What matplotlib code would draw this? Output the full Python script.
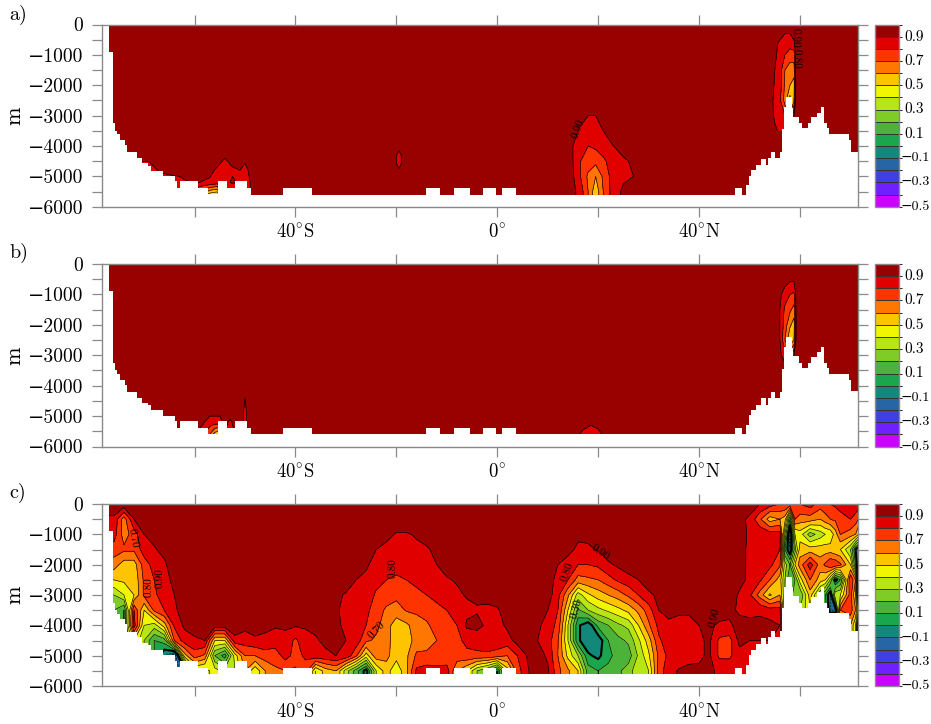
import numpy as np
import matplotlib
matplotlib.use("Agg")
import matplotlib.pyplot as plt
from matplotlib.colors import ListedColormap, BoundaryNorm

plt.rcParams['font.family'] = ['cmr10', 'DejaVu Serif']
plt.rcParams['axes.unicode_minus'] = True
plt.rcParams['axes.formatter.use_mathtext'] = False
plt.rcParams['mathtext.fontset'] = 'cm'

W, H = 931, 724
levels = [-0.5, -0.4, -0.3, -0.2, -0.1, 0.0, 0.1, 0.2, 0.3, 0.4, 0.5, 0.6, 0.7, 0.8, 0.9, 1.0]
colors = ['#cc00ff', '#7020ff', '#4040e0', '#2666a6', '#11887a', '#19a64d', '#4cb33a', '#80cc26',
          '#b8e614', '#f0f500', '#ffc400', '#ff7700', '#ff3300', '#e00000', '#990000']
cbar_labels = ['\u22120.5', '\u22120.3', '\u22120.1', '0.1', '0.3', '0.5', '0.7', '0.9']
cbar_ticks = [-0.5, -0.3, -0.1, 0.1, 0.3, 0.5, 0.7, 0.9]
lat_ticks = [-60, -40, -20, 0, 20, 40, 60]
lat_names = ['', r'40$^{\circ}$S', '', r'0$^{\circ}$', '', r'40$^{\circ}$N', '']
depth_ticks = [0, -500, -1000, -1500, -2000, -2500, -3000, -3500, -4000, -4500, -5000, -5500, -6000]
depth_names = ['0', '', '\u22121000', '', '\u22122000', '', '\u22123000', '', '\u22124000', '', '\u22125000', '', '\u22126000']

# sea floor: latitude of each step and depth from there on
floor_lat = [-78.35, -76.9, -76.2, -76.1, -75.8, -75.3, -74.8, -73.8, -73.3, -71.4, -70.5, -69.3, -68.7, -66.2,
             -63.9, -63.5, -62.9, -59.3, -57.3, -55.3, -53.6, -52.0, -49.7, -48.9, -42.4, -36.7, -14.1, -11.4,
             -8.6, -5.4, -2.8, -0.3, 0.9, 3.7, 47.1, 48.5, 49.3, 49.8, 50.3, 51.3, 52.3, 53.2, 53.7, 54.2, 55.0,
             56.0, 56.4, 56.8, 57.2, 58.4, 58.6, 59.7, 60.3, 61.6, 62.1, 63.4, 64.2, 64.8, 65.3, 65.8, 69.7, 70.2, 71.55]
floor_depth = [0, 900, 1500, 3250, 3500, 3620, 3800, 3970, 4210, 4400, 4570, 4650, 4810, 4990,
               5170, 5390, 5170, 5400, 5590, 5170, 5400, 5170, 5400, 5600, 5400, 5600, 5400, 5600,
               5400, 5600, 5400, 5600, 5400, 5600, 5400, 5600, 5300, 4980, 4800, 4620, 4420, 4620, 4400, 4200, 4400,
               4200, 3440, 2720, 2400, 2750, 3030, 3250, 3420, 3250, 3060, 2900, 2730, 3250, 3420, 3600, 3800, 4190, 4190]

# panels a and b: background value
base_lat = [-78.35, 71.55]
base_depth = [0, -6000]
base_val = [[0.95, 0.95], [0.95, 0.95]]

# panel a patches
a_dome_lat = [13, 15, 16.5, 18, 19.5, 21, 23, 25, 27, 29]
a_dome_depth = [-2500, -3000, -3500, -4000, -4500, -5000, -5500, -6000]
a_dome = [[.95, .95, .95, .95, .95, .95, .95, .95, .95, .95],
          [.95, .95, .92, .90, .90, .92, .95, .95, .95, .95],
          [.95, .92, .89, .87, .87, .90, .92, .95, .95, .95],
          [.95, .90, .86, .80, .82, .85, .90, .95, .95, .95],
          [.95, .90, .80, .75, .73, .78, .85, .88, .92, .95],
          [.95, .91, .80, .68, .60, .72, .85, .88, .90, .95],
          [.95, .93, .85, .70, .53, .70, .85, .92, .95, .95],
          [.95, .93, .85, .70, .53, .70, .85, .92, .95, .95]]
a_north_lat = [54, 55, 56, 57, 58, 58.8, 59.2]
a_north_depth = [0, -300, -600, -1000, -1500, -2000, -2500, -3000, -3500]
a_north = [[.95, .95, .95, .95, .95, .95, .95],
           [.95, .95, .95, .90, .90, .95, .95],
           [.95, .93, .88, .85, .85, .88, .95],
           [.95, .91, .88, .80, .75, .75, .95],
           [.95, .90, .85, .70, .65, .65, .95],
           [.95, .89, .85, .68, .60, .55, .95],
           [.95, .87, .82, .66, .45, .60, .95],
           [.95, .88, .85, .80, .60, .90, .95],
           [.95, .92, .88, .80, .60, .90, .95]]
a_south_lat = [-71, -69, -67, -65, -63, -61, -59, -57, -55.5, -54, -52.5, -51, -50, -49, -48]
a_south_depth = [-4000, -4400, -4800, -5200, -5600, -6000]
a_south = [[.95, .95, .95, .95, .95, .95, .95, .95, .95, .95, .95, .95, .95, .95, .95],
           [.92, .92, .95, .95, .95, .95, .95, .95, .95, .90, .95, .95, .92, .95, .95],
           [.85, .85, .91, .93, .95, .95, .95, .93, .88, .85, .88, .90, .87, .92, .95],
           [.85, .85, .85, .85, .85, .90, .90, .88, .85, .85, .92, .88, .85, .90, .95],
           [.80, .80, .80, .75, .80, .80, .60, .45, .40, .80, .70, .80, .85, .90, .95],
           [.80, .80, .80, .75, .80, .80, .60, .45, .40, .80, .70, .80, .85, .90, .95]]
a_oval_lat = [-20.4, -19.5, -18.6]
a_oval_depth = [-4000, -4300, -4600, -4900]
a_oval = [[.95, .95, .95], [.95, .85, .95], [.95, .85, .95], [.95, .95, .95]]

# panel b patches
b_north_lat = [55, 56, 57, 58, 58.8, 59.3]
b_north_depth = [0, -500, -1000, -1500, -2000, -2500, -3000, -3500]
b_north = [[.95, .95, .95, .95, .95, .95],
           [.95, .95, .95, .92, .92, .95],
           [.95, .92, .85, .80, .78, .95],
           [.95, .90, .78, .72, .66, .95],
           [.95, .90, .75, .62, .55, .95],
           [.95, .90, .70, .50, .60, .95],
           [.95, .92, .85, .80, .90, .95],
           [.95, .95, .95, .95, .95, .95]]
b_south_lat = [-60, -58.5, -57, -56, -55, -54, -53, -52, -51.2, -50.5, -50, -49.5, -49]
b_south_depth = [-4000, -4400, -4800, -5200, -5600, -6000]
b_south = [[.95, .95, .95, .95, .95, .95, .95, .95, .95, .95, .95, .95, .95],
           [.95, .95, .95, .95, .95, .95, .95, .95, .95, .95, .90, .95, .95],
           [.95, .95, .95, .95, .95, .95, .95, .95, .95, .95, .85, .95, .95],
           [.95, .92, .85, .85, .85, .93, .88, .93, .95, .92, .86, .92, .95],
           [.90, .85, .70, .55, .50, .90, .85, .90, .95, .95, .95, .95, .95],
           [.90, .85, .70, .55, .50, .90, .85, .90, .95, .95, .95, .95, .95]]
b_dome_lat = [15, 17, 18.5, 20, 22]
b_dome_depth = [-5000, -5300, -5600, -6000]
b_dome = [[.95, .95, .95, .95, .95],
          [.95, .93, .90, .92, .95],
          [.95, .87, .85, .87, .95],
          [.95, .87, .85, .87, .95]]

# panel c: one row per latitude, one value per depth
c_depth = [0, -500, -1000, -1500, -2000, -2500, -3000, -3500, -4000, -4500, -5000, -5500, -6000]
c_lat = [-78.35, -76, -74, -72, -70, -68, -66, -64, -62, -60, -58, -56, -54, -52, -50, -48, -46, -44,
         -42, -40, -38, -36, -34, -32, -30, -28, -26, -24, -22, -20, -18, -16, -14, -12, -10, -8, -6, -4, -2, 0,
         2, 4, 6, 8, 10, 12, 14, 16, 18, 20, 22, 24, 26, 28, 30, 32, 34, 36, 38, 40, 42, 44, 46, 48,
         50, 52, 54, 56, 57, 58, 59, 60, 62, 64, 65, 66, 67, 68, 70, 71, 71.55]
c_field = [
    [.97, .88, .85, .75, .65, .50, .30, .20, .20, .20, .20, .20, .20],
    [.97, .88, .85, .75, .65, .50, .30, .20, .20, .20, .20, .20, .20],
    [.97, .65, .65, .72, .55, .52, .40, .10, .10, .10, .10, .10, .10],
    [.97, .90, .75, .72, .55, .52, .50, .80, .85, .50, .50, .50, .50],
    [.97, .95, .90, .85, .75, .72, .72, .50, .40, .30, .30, .30, .30],
    [.97, .97, .93, .89, .84, .80, .78, .72, .35, .10, .10, .10, .10],
    [.97, .97, .96, .93, .88, .86, .85, .80, .55, .15, -.1, -.1, -.1],
    [.97, .97, .97, .97, .97, .93, .90, .88, .82, .70, -.3, -.3, -.3],
    [.97, .97, .97, .97, .97, .97, .97, .95, .92, .85, .55, -.1, -.1],
    [.97, .97, .97, .97, .97, .97, .97, .97, .95, .88, .75, .40, .40],
    [.97, .97, .97, .97, .97, .97, .97, .97, .95, .90, .68, .35, .35],
    [.97, .97, .97, .97, .97, .97, .97, .97, .96, .50, .20, .45, .45],
    [.97, .97, .97, .97, .97, .97, .97, .97, .96, .50, .05, .35, .35],
    [.97, .97, .97, .97, .97, .97, .97, .97, .96, .87, .45, .40, .40],
    [.97, .97, .97, .97, .97, .97, .97, .96, .93, .85, .70, .60, .60],
    [.97, .97, .97, .97, .97, .97, .97, .97, .95, .88, .70, .42, .42],
    [.97, .97, .97, .97, .97, .97, .97, .97, .92, .88, .75, .60, .60],
    [.97, .97, .97, .97, .97, .97, .97, .97, .91, .85, .75, .68, .68],
    [.97, .97, .97, .97, .97, .97, .97, .97, .92, .86, .84, .70, .70],
    [.97, .97, .97, .97, .97, .97, .97, .97, .91, .78, .76, .68, .68],
    [.97, .97, .97, .97, .97, .97, .97, .95, .91, .87, .82, .75, .75],
    [.97, .97, .97, .97, .97, .97, .97, .96, .92, .89, .87, .40, .40],
    [.97, .97, .97, .97, .97, .97, .97, .97, .95, .92, .88, .55, .55],
    [.97, .97, .97, .97, .97, .97, .92, .91, .92, .94, .90, .60, .60],
    [.97, .97, .97, .97, .97, .95, .89, .88, .88, .90, .88, .35, .35],
    [.97, .97, .97, .97, .96, .90, .87, .87, .86, .86, .72, .15, .15],
    [.97, .97, .97, .96, .92, .87, .84, .82, .80, .72, .45, -.05, -.05],
    [.97, .97, .97, .90, .85, .82, .79, .76, .73, .68, .66, .40, .40],
    [.97, .97, .93, .87, .84, .80, .76, .68, .64, .64, .63, .55, .55],
    [.97, .97, .89, .86, .82, .79, .73, .65, .55, .54, .54, .42, .42],
    [.97, .97, .89, .87, .85, .80, .75, .71, .58, .55, .58, .58, .58],
    [.97, .97, .91, .88, .86, .82, .78, .72, .65, .64, .72, .82, .82],
    [.97, .97, .93, .89, .87, .84, .80, .75, .68, .66, .72, .85, .85],
    [.97, .97, .96, .92, .90, .86, .82, .78, .75, .70, .76, .82, .82],
    [.97, .97, .97, .96, .94, .89, .86, .80, .77, .74, .72, .85, .85],
    [.97, .97, .97, .97, .95, .91, .88, .84, .80, .78, .76, .60, .60],
    [.97, .97, .97, .97, .97, .95, .91, .87, .92, .82, .78, .50, .50],
    [.97, .97, .97, .97, .97, .97, .92, .89, .93, .84, .78, .30, .30],
    [.97, .97, .97, .97, .97, .97, .93, .88, .88, .86, .78, .20, .20],
    [.97, .97, .97, .97, .97, .97, .94, .89, .86, .87, .75, .00, .00],
    [.97, .97, .97, .97, .97, .97, .97, .94, .92, .86, .70, .45, .45],
    [.97, .97, .97, .97, .97, .97, .97, .97, .96, .94, .80, .75, .75],
    [.97, .97, .97, .97, .97, .97, .97, .97, .97, .96, .91, .89, .89],
    [.97, .97, .97, .97, .97, .97, .97, .97, .92, .90, .95, .96, .96],
    [.97, .97, .97, .97, .97, .97, .95, .90, .86, .85, .88, .92, .92],
    [.97, .97, .97, .97, .90, .85, .83, .80, .77, .71, .70, .73, .73],
    [.97, .97, .97, .93, .86, .80, .62, .50, .40, .40, .47, .62, .62],
    [.97, .97, .92, .88, .80, .66, .35, .18, .02, .02, .30, .50, .50],
    [.97, .97, .93, .88, .80, .68, .48, .30, -.08, -.08, .02, .15, .15],
    [.97, .97, .97, .91, .82, .70, .55, .37, .13, -.07, -.03, .10, .10],
    [.97, .97, .97, .96, .88, .76, .60, .42, .20, .10, .08, .12, .12],
    [.97, .97, .97, .97, .92, .82, .65, .47, .28, .17, .13, .18, .18],
    [.97, .97, .97, .97, .96, .86, .72, .53, .33, .22, .15, .25, .25],
    [.97, .97, .97, .97, .97, .90, .80, .63, .50, .38, .32, .38, .38],
    [.97, .97, .97, .97, .97, .95, .88, .75, .68, .55, .48, .40, .40],
    [.97, .97, .97, .97, .97, .97, .92, .90, .83, .78, .72, .75, .75],
    [.97, .97, .97, .97, .97, .97, .96, .93, .88, .86, .83, .86, .86],
    [.97, .97, .97, .97, .97, .97, .93, .91, .88, .87, .84, .91, .91],
    [.97, .97, .97, .97, .97, .97, .91, .91, .88, .87, .86, .93, .93],
    [.97, .97, .97, .97, .97, .97, .97, .93, .90, .88, .88, .92, .92],
    [.97, .97, .97, .97, .97, .97, .97, .97, .92, .92, .92, .92, .92],
    [.97, .97, .97, .97, .97, .97, .97, .96, .88, .78, .78, .88, .88],
    [.97, .97, .97, .97, .97, .97, .97, .93, .88, .76, .78, .87, .87],
    [.95, .93, .95, .95, .95, .94, .88, .88, .94, .93, .86, .86, .86],
    [.95, .88, .88, .87, .87, .87, .82, .87, .93, .90, .90, .90, .90],
    [.90, .72, .88, .86, .86, .82, .66, .88, .93, .90, .90, .90, .90],
    [.85, .55, .85, .87, .83, .70, .48, .85, .93, .90, .90, .90, .90],
    [.80, .60, .85, .80, .72, .55, .60, .85, .90, .90, .90, .90, .90],
    [.80, .55, .30, .10, .35, .30, .30, .30, .30, .30, .30, .30, .30],
    [.78, .10, -.15, -.1, .20, .10, .10, .10, .10, .10, .10, .10, .10],
    [.75, .70, .40, .25, .50, .20, .30, .30, .30, .30, .30, .30, .30],
    [.80, .65, .45, .55, .65, .45, .20, .30, .30, .30, .30, .30, .30],
    [.85, .65, .25, .55, .85, .70, .55, .50, .50, .50, .50, .50, .50],
    [.75, .60, .35, .55, .65, .55, .20, .30, .30, .30, .30, .30, .30],
    [.78, .65, .40, .55, .72, .50, .10, .20, .30, .30, .30, .30, .30],
    [.80, .70, .42, .55, .80, .30, -.1, -.1, .50, .50, .50, .50, .50],
    [.82, .72, .55, .52, .78, -.05, .40, -.1, .50, .50, .50, .50, .50],
    [.85, .75, .70, .50, .72, .10, .40, .70, .70, .70, .70, .70, .70],
    [.90, .80, .65, .30, .50, .80, .75, .75, .60, .60, .60, .60, .60],
    [.88, .75, .60, .00, .10, .60, .50, .60, .40, .40, .40, .40, .40],
    [.85, .70, .50, -.1, -.1, -.1, -.1, .30, -.1, -.1, -.1, -.1, -.1],
]

a_labels = [(16.1, -3420, '0.90', 70), (59.0, -450, '0.90', -90), (59.2, -1130, '0.80', -90)]
b_labels = []
c_labels = [(-72.2, -1130, '0.70', -80), (-20.7, -2100, '0.80', 90), (-24.0, -4150, '0.70', 45),
            (-69.0, -2725, '0.80', 90), (-66.8, -2450, '0.90', 90), (20.5, -1600, '0.90', -35),
            (13.9, -2230, '0.80', 70), (15.7, -3440, '0.30', 75), (43.0, -3750, '0.90', 75)]

panels = [('a)', 24.5, 206.7, [(a_south_lat, a_south_depth, a_south), (a_oval_lat, a_oval_depth, a_oval),
                               (a_dome_lat, a_dome_depth, a_dome), (a_north_lat, a_north_depth, a_north)], a_labels, 15),
          ('b)', 264.0, 446.5, [(b_south_lat, b_south_depth, b_south), (b_dome_lat, b_dome_depth, b_dome),
                                (b_north_lat, b_north_depth, b_north)], b_labels, 253),
          ('c)', 504.0, 686.0, [], c_labels, 493)]

GRAY = '#8a8a8a'
cmap = ListedColormap(colors)
cmap.set_under(colors[0])
cmap.set_over(colors[-1])
norm = BoundaryNorm(levels, cmap.N)

fig = plt.figure(figsize=(W / 100, H / 100), dpi=100, facecolor='white')


def shade(ax, lat, depth, vals):
    x, y = np.asarray(lat), np.asarray(depth)
    z = np.asarray(vals)
    ax.contourf(x, y, z, levels=levels, cmap=cmap, norm=norm, extend='both', zorder=1)
    ax.contour(x, y, z, levels=[v for v in levels if abs(v) > 1e-6], colors='k', linewidths=0.45, zorder=2)
    if z.min() < 0 < z.max():
        ax.contour(x, y, z, levels=[0.0], colors='k', linewidths=1.5, zorder=2)


for name, top, bot, patches, labels, lab_y in panels:
    ax = fig.add_axes([102 / W, 1 - bot / H, (858.3 - 102) / W, (bot - top) / H])
    ax.set_xlim(-78.35, 71.55)
    ax.set_ylim(-6000, 0)
    if name == 'c)':
        shade(ax, c_lat, c_depth, np.array(c_field).T)
    else:
        shade(ax, base_lat, base_depth, base_val)
        for p_lat, p_depth, p_val in patches:
            shade(ax, p_lat, p_depth, p_val)
    ax.fill_between(floor_lat, -np.array(floor_depth), -6000, step='post', color='white', lw=0, zorder=3)
    for la, de, tx, rot in labels:
        ax.text(la, de, tx, rotation=rot, fontsize=8, ha='center', va='center', color='k', zorder=4)
    ax.set_xticks(lat_ticks)
    ax.set_xticklabels(lat_names, fontsize=13.5)
    ax.set_yticks(depth_ticks)
    ax.set_yticklabels(depth_names, fontsize=14)
    ax.tick_params(axis='both', direction='out', length=7.5, width=0.9, color=GRAY, top=True, right=True,
                   labeltop=False, labelright=False)
    ax.tick_params(axis='y', pad=6)
    ax.tick_params(axis='x', pad=4.5)
    for s in ax.spines.values():
        s.set_color(GRAY)
        s.set_linewidth(1.0)
        s.set_zorder(5)
    fig.text(15 / W, 1 - (top + bot) / 2 / H, 'm', rotation=90, fontsize=16, ha='center', va='center')
    fig.text(9 / W, 1 - lab_y / H, name, fontsize=14.5, ha='left', va='center')

    cax = fig.add_axes([875.3 / W, 1 - bot / H, 24 / W, (bot - top) / H])
    sm = plt.cm.ScalarMappable(norm=norm, cmap=cmap)
    cb = fig.colorbar(sm, cax=cax, boundaries=levels, spacing='uniform', drawedges=True)
    cb.set_ticks([])
    for tv, tl in zip(cbar_ticks, cbar_labels):
        neg = tl.startswith('\u2212')
        x_px = 901 if neg else 904
        cax.text((x_px - 875.3) / 24, (tv + 0.5) / 1.5, tl, transform=cax.transAxes, fontsize=10 if neg else 11,
                 ha='left', va='center', clip_on=False)
    cb.dividers.set_color('#333333')
    cb.dividers.set_linewidth(0.7)
    cb.outline.set_edgecolor(GRAY)
    cb.outline.set_linewidth(1.0)

fig.savefig('out.png', dpi=100, facecolor='white')
